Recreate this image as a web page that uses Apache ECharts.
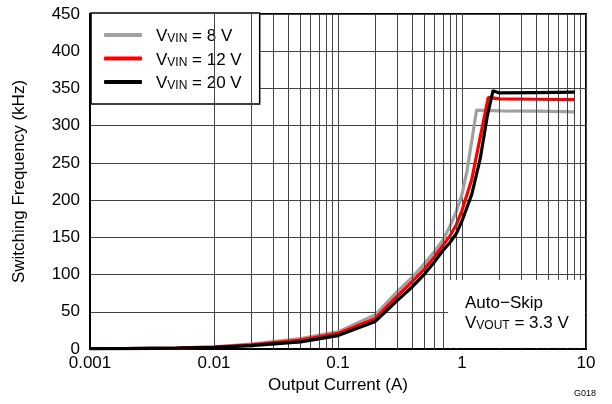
<!DOCTYPE html>
<html>
<head>
<meta charset="utf-8">
<script src="https://cdn.jsdelivr.net/npm/echarts@6/dist/echarts.min.js"></script>
<style>html,body{margin:0;padding:0;background:#fff}#c{width:612px;height:404px}</style>
</head>
<body>
<div id="c"></div>
<script>
// ---- data ----
var xTickLabels = ['0.001', '0.01', '0.1', '1', '10'];
var seriesNames = ['VIN = 8 V', 'VIN = 12 V', 'VIN = 20 V'];

var current8  = [0.001, 0.002, 0.005, 0.01, 0.02, 0.05, 0.1, 0.2, 0.3, 0.4, 0.5, 0.6, 0.7, 0.8, 0.9, 1.0, 1.1, 1.2, 1.31, 2.0, 4.0, 8.15];
var freq8     = [0.5,   0.8,   1.5,   3,    6.5,  14,   23,  46,  77,  97,  115, 131, 146, 165, 185, 208, 240, 280, 321,  320, 319.5, 318.5];

var current12 = [0.001, 0.002, 0.005, 0.01, 0.02, 0.05, 0.1, 0.2, 0.3, 0.4, 0.5, 0.6, 0.7, 0.8, 0.9, 1.0, 1.2, 1.4, 1.63, 2.0, 4.0, 8.15];
var freq12    = [0.5,   0.7,   1.3,   2.6,  5.5,  12,   21,  41,  71,  91,  108, 124, 139, 152, 167, 186, 228, 284, 338, 336, 335.5, 335];

var current20 = [0.001, 0.002, 0.005, 0.01, 0.02, 0.05, 0.1, 0.2, 0.3, 0.4, 0.5, 0.6, 0.7, 0.8, 0.9, 1.0, 1.2, 1.4, 1.6, 1.78, 2.0, 4.0, 8.15];
var freq20    = [0.4,   0.6,   1.1,   2.2,  4.5,  9.5,  18,  37,  65,  84,  101, 117, 132, 143, 155, 172, 208, 255, 313, 347, 344, 344.5, 345];

function pairs(xs, ys) { return xs.map(function (x, i) { return [x, ys[i]]; }); }

// minor log grid positions (2..9 within each decade)
var minorGrid = [];
[0.001, 0.01, 0.1, 1].forEach(function (d) {
  for (var k = 2; k <= 9; k++) minorGrid.push({ xAxis: +(d * k).toPrecision(3) });
});

var FONT = 'Liberation Sans';
var chart = echarts.init(document.getElementById('c'), null, { renderer: 'canvas' });

var legendRich = {
  v: { fontFamily: FONT, fontSize: 17, color: '#000', lineHeight: 20, verticalAlign: 'bottom' },
  p: { fontFamily: FONT, fontSize: 17, color: '#000', lineHeight: 20, verticalAlign: 'bottom', padding: [0, 0, 0, 9] },
  s: { fontFamily: FONT, fontSize: 12, color: '#000', lineHeight: 7, verticalAlign: 'bottom' }
};

var option = {
  animation: false,
  backgroundColor: '#fff',
  textStyle: { fontFamily: FONT },
  grid: {
    left: 90, right: 26, top: 14, bottom: 55,
    show: true, borderColor: '#000', borderWidth: 2, backgroundColor: 'transparent'
  },
  legend: {
    data: seriesNames,
    orient: 'vertical',
    left: 91, top: 13,
    backgroundColor: '#fff',
    borderColor: '#000', borderWidth: 1.5, borderRadius: 0,
    padding: [15, 18, 12, 13],
    itemWidth: 38, itemHeight: 4, itemGap: 6.5,
    icon: 'roundRect',
    formatter: function (name) {
      var rest = name.replace('VIN', '');
      return '{p|V}{s|VIN}{v|' + rest + '}';
    },
    textStyle: { rich: legendRich }
  },
  xAxis: {
    type: 'log', logBase: 10, min: 0.001, max: 10,
    name: 'Output Current (A)', nameLocation: 'middle', nameGap: 28,
    nameTextStyle: { fontFamily: FONT, fontSize: 17, color: '#000' },
    axisLine: { show: true, onZero: false, lineStyle: { color: '#000', width: 2 } },
    axisTick: { show: false },
    axisLabel: {
      fontFamily: FONT, fontSize: 17, color: '#000', margin: 6,
      formatter: function (v) {
        var idx = Math.round(Math.log10(v) + 3);
        return xTickLabels[idx] !== undefined ? xTickLabels[idx] : '';
      }
    },
    splitLine: { show: true, lineStyle: { color: '#444', width: 1 } },
    minorTick: { show: false }, minorSplitLine: { show: false }
  },
  yAxis: {
    type: 'value', min: 0, max: 450, interval: 50,
    name: 'Switching Frequency (kHz)', nameLocation: 'middle', nameGap: 62,
    nameTextStyle: { fontFamily: FONT, fontSize: 17, color: '#000' },
    axisLine: { show: true, lineStyle: { color: '#000', width: 2 } },
    axisTick: { show: false },
    axisLabel: { fontFamily: FONT, fontSize: 17, color: '#000', margin: 10 },
    splitLine: { show: true, lineStyle: { color: '#444', width: 1 } }
  },
  series: [
    {
      name: 'grid', type: 'line', data: [], z: 1, silent: true,
      markLine: {
        silent: true, symbol: ['none', 'none'], animation: false,
        label: { show: false },
        lineStyle: { type: 'solid', color: '#444', width: 1 },
        emphasis: { disabled: true },
        data: minorGrid
      }
    },
    {
      name: seriesNames[0], type: 'line', data: pairs(current8, freq8), z: 3,
      showSymbol: false, symbol: 'none', smooth: false,
      lineStyle: { color: '#a0a0a0', width: 3.2 }, itemStyle: { color: '#a0a0a0' }
    },
    {
      name: seriesNames[1], type: 'line', data: pairs(current12, freq12), z: 4,
      showSymbol: false, symbol: 'none', smooth: false,
      lineStyle: { color: '#ff0000', width: 3.2 }, itemStyle: { color: '#ff0000' }
    },
    {
      name: seriesNames[2], type: 'line', data: pairs(current20, freq20), z: 5,
      showSymbol: false, symbol: 'none', smooth: false,
      lineStyle: { color: '#000000', width: 3.2 }, itemStyle: { color: '#000000' }
    }
  ],
  graphic: [
    { type: 'rect', left: 448, top: 280, shape: { width: 137, height: 68 }, style: { fill: '#fff' }, z: 50 },
    { type: 'text', left: 465, top: 295, z: 51,
      style: { text: 'Auto\u2212Skip', font: '17px "Liberation Sans"', fill: '#000' } },
    { type: 'text', left: 465, top: 315, z: 51,
      style: {
        text: '{v|V}{s|VOUT}{v| = 3.3 V}',
        rich: {
          v: { fontFamily: FONT, fontSize: 17, fill: '#000', lineHeight: 20, verticalAlign: 'bottom' },
          s: { fontFamily: FONT, fontSize: 12, fill: '#000', lineHeight: 7, verticalAlign: 'bottom' }
        }
      } },
    { type: 'text', right: 16, top: 389, z: 51,
      style: { text: 'G018', font: '9px "Liberation Sans"', fill: '#000' } }
  ]
};
chart.setOption(option);
</script>
</body>
</html>
